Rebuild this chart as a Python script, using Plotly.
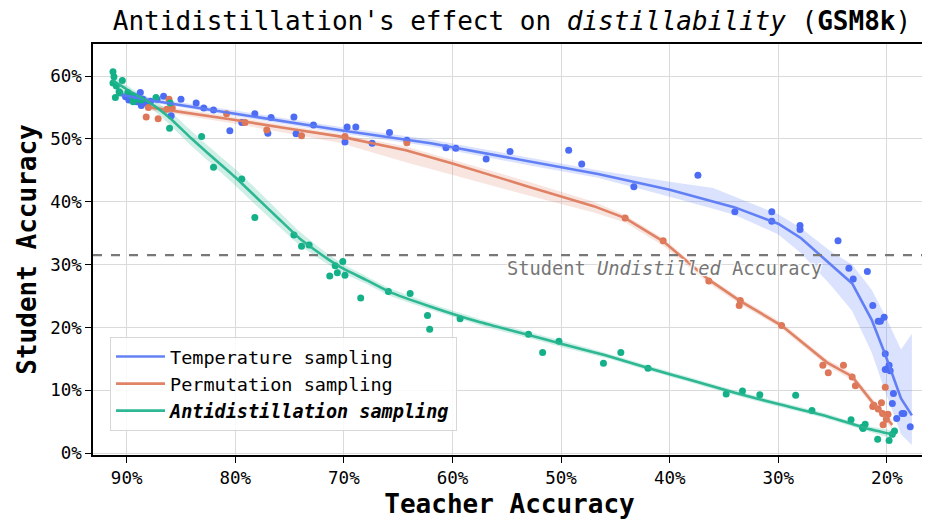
import plotly.graph_objects as go

FONT = "DejaVu Sans Mono"

# ---------------- data (percent) ----------------
temp_teacher = [90.1, 89.7, 89.6, 89.1, 88.74, 88.5, 88.65, 88.2, 89.8, 89.3, 87.8, 87.2,
                86.6, 85.9, 85.0, 83.6, 82.9, 82.0, 80.5, 79.4, 78.2, 77.0, 76.7, 74.6,
                74.4, 72.8, 69.7, 68.9, 69.9, 67.4, 65.8, 64.2, 60.6, 59.7, 56.9, 54.7,
                49.3, 48.1, 43.3, 37.4, 34.0, 30.6, 30.6, 28.0, 28.0, 24.5, 23.5, 23.1,
                21.8, 21.3, 20.8, 20.6, 20.25, 20.15, 19.8, 20.15, 19.7, 19.4, 19.5,
                19.1, 18.6, 18.45, 17.85]
temp_student = [56.7, 57.0, 56.5, 55.9, 57.4, 56.3, 55.3, 55.7, 56.2, 56.8, 56.0, 56.3,
                56.8, 53.7, 56.3, 55.7, 54.9, 54.6, 51.3, 52.6, 54.0, 50.9, 53.4, 53.5,
                50.8, 52.2, 51.9, 51.9, 49.5, 49.3, 51.0, 49.8, 48.6, 48.5, 46.8, 48.0,
                48.2, 46.0, 42.4, 44.2, 38.4, 38.4, 36.9, 36.2, 35.6, 33.8, 29.4, 27.7,
                28.9, 23.5, 21.0, 21.0, 21.6, 15.8, 14.0, 13.3, 13.1, 9.5, 7.9,
                5.5, 6.3, 6.3, 4.2]

perm_teacher = [86.1, 88.0, 88.2, 87.1, 86.3, 85.8, 80.8, 79.1, 77.1, 73.9, 69.9, 64.2,
                44.1, 40.6, 36.4, 33.5, 33.6, 29.7, 25.9, 25.4, 24.0, 23.2, 22.9, 20.15,
                21.2, 21.3, 20.5, 20.8, 20.4, 19.9, 20.05, 20.35]
perm_student = [56.3, 55.0, 53.5, 53.2, 54.7, 54.9, 54.0, 52.6, 51.4, 50.5, 50.4, 49.4,
                37.4, 33.8, 27.4, 24.3, 23.5, 20.3, 14.0, 12.8, 14.0, 12.1, 10.7, 10.5,
                7.6, 7.4, 8.0, 7.0, 6.3, 6.2, 5.4, 4.5]

anti_teacher = [91.26, 91.17, 91.26, 90.4, 90.95, 90.7, 90.6, 91.04, 89.9, 89.4, 88.65,
                89.6, 88.9, 87.3, 86.0, 86.05, 83.1, 82.0, 79.4, 78.2, 74.6, 73.9, 73.2,
                70.8, 70.1, 71.3, 70.6, 69.9, 68.45, 65.9, 63.9, 62.3, 62.1, 59.3, 53.0,
                51.7, 50.2, 46.1, 44.5, 42.0, 34.8, 33.3, 31.7, 28.4, 26.9, 23.3, 22.25,
                22.0, 22.2, 20.85, 19.8, 19.5, 19.3]
anti_student = [60.7, 59.9, 58.9, 59.3, 58.4, 57.5, 57.3, 56.6, 57.4, 55.9, 56.2,
                56.9, 56.3, 56.6, 55.7, 51.7, 50.4, 45.5, 43.6, 37.5, 34.7, 32.9, 33.1,
                29.8, 30.5, 28.2, 28.7, 28.3, 24.7, 25.7, 25.4, 21.9, 19.7, 21.4, 18.9,
                16.0, 17.8, 14.3, 16.0, 13.5, 9.4, 9.9, 9.3, 9.2, 6.8, 5.3, 4.1,
                4.6, 3.9, 2.2, 2.0, 3.0, 3.5]

# fitted trend lines with confidence bands
temp_fit_x = [90.5, 88, 80, 70, 62, 53, 46.6, 40, 36, 34, 30, 27.9, 25.1, 23.2, 21.4, 20.2, 18.7, 17.7]
temp_fit_y = [57.0, 56.2, 54.0, 51.3, 49.3, 46.4, 44.4, 41.9, 40.1, 39.1, 36.5, 34.2, 29.9, 27.0, 21.2, 15.9, 8.7, 6.0]
temp_fit_lo = [56.6, 55.8, 53.6, 50.8, 48.8, 45.8, 43.8, 40.8, 38.9, 37.9, 34.8, 31.8, 26.6, 22.6, 16.0, 10.0, 3.0, 1.3]
temp_fit_hi = [57.4, 56.6, 54.5, 51.8, 49.9, 47.0, 45.0, 43.2, 42.2, 40.8, 38.0, 35.8, 32.0, 30.0, 26.0, 22.0, 16.5, 19.0]

perm_fit_x = [88.2, 85, 80, 75, 70.4, 64.3, 60, 53, 47, 44.1, 40.6, 36.4, 33.5, 29.7, 25.5, 23.2, 21.2, 19.5]
perm_fit_y = [55.1, 54.3, 53.0, 51.6, 50.4, 48.2, 46.1, 42.4, 39.3, 37.4, 33.7, 27.6, 24.2, 20.3, 14.4, 12.2, 7.8, 4.5]
perm_fit_lo = [54.6, 53.8, 52.4, 50.8, 49.4, 46.3, 44.3, 41.0, 38.3, 36.7, 33.0, 27.0, 23.7, 19.8, 13.9, 11.6, 7.2, 3.8]
perm_fit_hi = [55.6, 54.8, 53.5, 52.1, 50.8, 48.8, 46.7, 43.2, 40.0, 37.9, 34.2, 28.0, 24.7, 20.8, 14.9, 12.7, 8.4, 5.2]

anti_fit_x = [91.3, 90, 89, 88, 87, 86, 84.06, 82.7, 80, 78, 76, 74.1, 72.4, 71.4, 70, 68, 65.85, 62, 57.6, 53, 50, 46, 42.3, 38, 34, 30, 25.4, 22, 19.3]
anti_fit_y = [59.3, 57.9, 56.9, 55.9, 54.7, 53.3, 50.1, 48.0, 43.9, 40.6, 37.3, 34.2, 32.0, 30.8, 29.3, 27.6, 25.7, 23.3, 20.9, 18.8, 17.4, 15.6, 13.7, 11.6, 9.6, 7.8, 5.8, 4.0, 2.9]
anti_fit_lo = [58.6, 57.3, 56.3, 55.2, 53.8, 52.2, 48.9, 46.8, 42.6, 39.3, 36.1, 33.1, 31.1, 30.0, 28.6, 27.0, 25.1, 22.8, 20.4, 18.3, 16.9, 15.2, 13.3, 11.2, 9.2, 7.4, 5.4, 3.6, 2.4]
anti_fit_hi = [60.0, 58.5, 57.5, 56.6, 55.6, 54.4, 51.3, 49.2, 45.2, 41.9, 38.5, 35.3, 32.9, 31.6, 30.0, 28.2, 26.3, 23.8, 21.4, 19.3, 17.9, 16.0, 14.1, 12.0, 10.0, 8.2, 6.2, 4.4, 3.4]

undistilled_acc = 31.5

x_ticks = [90, 80, 70, 60, 50, 40, 30, 20]
x_tick_labels = ["90%", "80%", "70%", "60%", "50%", "40%", "30%", "20%"]
y_ticks = [0, 10, 20, 30, 40, 50, 60]
y_tick_labels = ["0%", "10%", "20%", "30%", "40%", "50%", "60%"]

series = [
    ("Temperature sampling", temp_teacher, temp_student, temp_fit_x, temp_fit_y, temp_fit_lo, temp_fit_hi,
     "rgb(76,108,246)", "rgba(92,122,246,0.95)", "rgba(92,122,246,0.22)", "linear"),
    ("Permutation sampling", perm_teacher, perm_student, perm_fit_x, perm_fit_y, perm_fit_lo, perm_fit_hi,
     "rgb(222,118,88)", "rgba(222,124,94,0.95)", "rgba(222,124,94,0.20)", "linear"),
    ("<b><i>Antidistillation sampling</i></b>", anti_teacher, anti_student, anti_fit_x, anti_fit_y, anti_fit_lo, anti_fit_hi,
     "rgb(20,176,136)", "rgba(36,180,142,0.95)", "rgba(36,180,142,0.22)", "spline"),
]

fig = go.Figure()

# bands
for name, tx, sy, fx, fy, lo, hi, pc, lc, bc, shp in series:
    fig.add_trace(go.Scatter(x=list(fx) + list(fx)[::-1], y=list(hi) + list(lo)[::-1],
                             fill="toself", fillcolor=bc, line=dict(width=0, shape=shp, smoothing=0.5),
                             mode="lines", hoverinfo="skip", showlegend=False))
# points
for name, tx, sy, fx, fy, lo, hi, pc, lc, bc, shp in series:
    fig.add_trace(go.Scatter(x=tx, y=sy, mode="markers",
                             marker=dict(color=pc, size=7, line=dict(width=0)),
                             showlegend=False))
# lines
for name, tx, sy, fx, fy, lo, hi, pc, lc, bc, shp in series:
    fig.add_trace(go.Scatter(x=fx, y=fy, mode="lines", name=name,
                             line=dict(color=lc, width=2.6, shape=shp, smoothing=0.5)))

# dashed undistilled line
fig.add_trace(go.Scatter(x=[93.1, 16.4], y=[undistilled_acc, undistilled_acc], mode="lines",
                         line=dict(color="rgb(120,120,120)", width=2.2, dash="dash"),
                         showlegend=False, hoverinfo="skip"))

fig.add_annotation(x=25.75, y=29.3, xref="x", yref="y", xanchor="right", yanchor="middle",
                   text="Student <i>Undistilled</i> Accuracy", showarrow=False,
                   font=dict(family=FONT, size=18.7, color="rgb(118,118,118)",
                             shadow="1px 1px 1px white, -1px -1px 1px white, 1px -1px 1px white, -1px 1px 1px white"))

# page body has an 8px margin: size the figure so it fits the 930x521 window exactly
fig.update_layout(
    width=922, height=513,
    margin=dict(l=85, r=2, t=36, b=66),
    paper_bgcolor="white", plot_bgcolor="white",
    font=dict(family=FONT, color="black"),
    title=dict(text="Antidistillation's effect on <i>distillability</i> (<b>GSM8k</b>)",
               x=0.5466, xanchor="center", y=0.993, yanchor="top", pad=dict(t=0, b=0),
               font=dict(family=FONT, size=26, color="black")),
    legend=dict(x=0.0204, y=0.287, xanchor="left", yanchor="top",
                bgcolor="rgba(255,255,255,0.85)", bordercolor="rgb(215,215,215)", borderwidth=1,
                font=dict(family=FONT, size=18.5, color="black"),
                itemwidth=49, tracegroupgap=0),
    showlegend=True,
)

fig.update_xaxes(range=[93.1, 16.4], tickvals=x_ticks, ticktext=x_tick_labels,
                 showgrid=True, gridcolor="rgb(218,218,218)", gridwidth=1,
                 showline=True, linecolor="black", linewidth=1.5, mirror=True,
                 ticks="outside", ticklen=6, tickcolor="black",
                 tickfont=dict(family=FONT, size=17.5),
                 title=dict(text="<b>Teacher Accuracy</b>", font=dict(family=FONT, size=26), standoff=8),
                 zeroline=False)
fig.update_yaxes(range=[-0.3, 65.1], tickvals=y_ticks, ticktext=y_tick_labels,
                 showgrid=True, gridcolor="rgb(218,218,218)", gridwidth=1,
                 showline=True, linecolor="black", linewidth=1.5, mirror=True,
                 ticks="outside", ticklen=6, tickcolor="black",
                 tickfont=dict(family=FONT, size=17.5),
                 title=dict(text="<b>Student Accuracy</b>", font=dict(family=FONT, size=26), standoff=6),
                 zeroline=False)

fig.write_html("out.html")
